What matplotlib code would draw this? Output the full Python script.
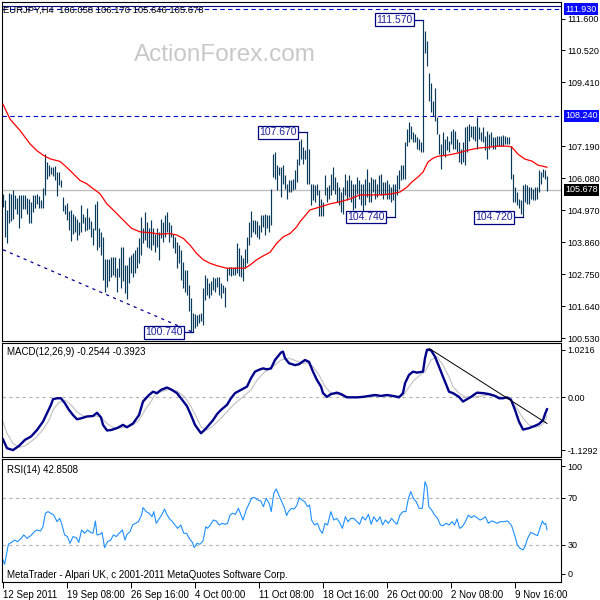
import matplotlib
matplotlib.use("Agg")
import matplotlib.pyplot as plt
import numpy as np

plt.rcParams['font.family'] = ['Liberation Sans', 'DejaVu Sans']

# ---- EURJPY H4 bars (high / low), one per bar from left to right
highs = [
    105.53, 105.31, 104.97, 105.58, 105.54, 105.66, 105.51, 105.39, 105.49, 105.51,
    105.49, 105.51, 105.39, 105.37, 105.26, 105.51, 105.51, 105.54, 105.46, 105.31,
    105.74, 106.90, 106.63, 106.52, 106.46, 106.46, 106.50, 106.29, 106.29, 106.00,
    105.43, 105.14, 105.22, 104.93, 104.97, 104.85, 104.77, 104.66, 104.57, 105.14,
    104.85, 104.74, 105.05, 104.74, 104.59, 104.34, 105.20, 105.28, 104.34, 104.22,
    104.05, 103.28, 103.28, 103.28, 103.36, 103.36, 103.36, 102.98, 103.30, 103.70,
    103.70, 103.07, 103.07, 103.36, 103.42, 103.48,
    103.59, 103.70, 103.99, 104.74, 104.34, 104.91, 104.57, 104.34, 104.62, 104.34,
    104.16, 104.34, 104.22, 104.68, 104.57, 104.82, 104.89, 104.57, 104.45, 104.16,
    104.05, 103.88, 103.76, 103.59, 103.19, 102.90, 102.90, 102.38, 101.92, 101.41,
    101.37, 101.35, 101.37, 101.41, 102.27, 102.73, 102.61, 102.44, 102.50, 102.67,
    102.61, 102.67, 102.64, 102.44, 102.38, 102.32, 102.96, 103.01, 103.01, 102.96,
    103.01, 103.82, 103.67, 103.42, 103.30, 103.62, 104.05, 104.57, 104.93, 104.62,
    104.62, 104.59, 104.45, 104.82, 104.80, 104.85, 104.80, 104.80,
    105.72, 106.92, 106.98, 106.52, 106.46, 106.46, 106.52, 106.18, 105.89, 106.00,
    106.00, 106.06, 106.35, 106.75, 107.38, 107.44, 107.15, 107.04, 107.67, 107.10,
    105.89, 105.89, 105.83, 105.89, 105.66, 105.37, 105.26, 106.18, 105.77, 105.83,
    106.23, 106.46, 106.12, 105.95, 105.77, 105.60, 105.77, 106.23, 106.00, 106.18,
    106.00, 105.89, 105.89, 106.12, 106.00, 105.89, 105.89, 106.06, 106.40, 105.95,
    106.12, 106.06, 106.06, 105.89, 106.18, 106.23, 105.95, 105.95, 106.00, 105.89,
    105.77, 105.89, 105.89, 106.18, 106.35, 106.52, 106.52,
    107.33, 107.78, 108.02, 107.90, 107.67, 107.61, 107.50, 107.44, 107.33, 111.57,
    111.18, 110.83, 109.74, 109.39, 108.76, 109.19, 108.19, 107.61, 107.27, 107.67,
    107.44, 107.55, 107.38, 107.73, 107.78, 107.73, 107.44, 107.33, 107.10, 107.33,
    107.84, 107.90, 107.96, 107.90, 107.90, 107.90, 108.19, 107.84, 107.67, 107.84,
    107.55, 107.73, 107.61, 107.67, 107.50, 107.50, 107.55, 107.55, 107.55, 107.58,
    107.55, 107.50, 107.50, 107.21, 106.23, 105.77, 105.60, 105.37, 105.31, 105.83,
    105.89, 105.83, 105.77, 105.77, 105.72, 105.77, 105.77, 106.35, 106.29, 106.40,
    106.35, 106.17,
]
lows = [
    105.09, 104.04, 103.82, 104.51, 104.61, 104.68, 105.00, 104.85, 104.34, 104.70,
    105.00, 105.00, 104.85, 104.51, 104.51, 104.89, 105.03, 105.20, 105.05, 105.03,
    105.05, 105.51, 106.06, 106.17, 106.23, 106.17, 106.00, 105.46, 105.83, 105.77,
    104.93, 104.85, 104.62, 104.28, 103.90, 104.13, 104.22, 103.93, 104.11, 104.22,
    104.51, 104.24, 104.28, 104.31, 104.05, 103.78, 104.28, 103.59, 103.70, 103.42,
    102.56, 102.15, 102.32, 102.50, 102.67, 102.73, 102.67, 102.15, 102.67, 102.27,
    102.50, 102.10, 101.90, 102.44, 102.78, 102.67,
    102.78, 102.96, 103.13, 103.42, 103.82, 103.93, 103.70, 103.65, 103.59, 103.76,
    103.53, 103.70, 103.24, 103.99, 103.88, 104.05, 104.22, 103.88, 104.05, 103.65,
    103.48, 102.96, 103.13, 102.56, 102.27, 102.15, 102.04, 101.46, 100.78, 100.74,
    100.89, 100.95, 101.06, 101.12, 101.00, 101.87, 102.04, 101.92, 102.04, 102.21,
    102.15, 102.32, 102.04, 101.92, 102.10, 101.63, 102.50, 102.73, 102.70, 102.73,
    102.73, 102.78, 102.70, 102.67, 102.50, 102.96, 103.13, 103.78, 104.05, 104.22,
    104.16, 104.05, 103.97, 104.22, 104.40, 104.11, 104.34, 104.22,
    104.45, 106.12, 106.06, 105.66, 106.18, 105.43, 105.89, 105.72, 105.37, 105.60,
    105.60, 105.66, 105.72, 105.95, 106.52, 106.75, 106.58, 106.75, 105.89, 105.89,
    105.14, 105.31, 105.26, 105.49, 104.78, 104.78, 104.76, 105.49, 105.26, 105.37,
    105.49, 105.66, 105.54, 105.26, 105.14, 104.91, 104.85, 105.49, 105.31, 105.43,
    105.26, 104.97, 105.03, 105.54, 105.37, 105.14, 104.91, 105.14, 105.43, 105.26,
    105.26, 105.60, 105.37, 105.43, 105.54, 105.49, 105.37, 105.49, 105.37, 105.37,
    105.26, 105.31, 104.74, 105.49, 105.72, 106.00, 106.06,
    106.06, 107.21, 107.33, 107.44, 107.33, 107.33, 107.10, 107.04, 106.98, 106.98,
    110.43, 109.97, 108.76, 108.36, 108.24, 108.07, 107.61, 106.92, 106.40, 106.87,
    106.81, 107.04, 106.98, 107.27, 107.10, 107.10, 106.98, 106.64, 106.58, 106.64,
    106.52, 106.98, 107.38, 107.50, 107.44, 107.38, 107.10, 107.44, 107.38, 107.33,
    107.04, 106.75, 107.10, 107.21, 107.10, 107.10, 107.21, 107.21, 107.21, 107.21,
    107.27, 107.27, 107.27, 106.06, 105.26, 105.26, 105.14, 105.03, 104.85, 104.72,
    105.26, 105.20, 105.20, 105.37, 105.31, 105.31, 105.37, 105.60, 105.89, 106.12,
    106.06, 105.646,
]

# red moving average, sampled (bar index, price)
ma_bar = [0, 3.5, 8.5, 13.5, 16.8, 20.2, 23.5, 28.5, 31.8, 35.2,
          38.5, 41.8, 45.2, 48.5, 51.8, 55.2, 58.5, 61.8, 64.3, 68.5,
          73.5, 78.5, 83.5, 86.8, 90.2, 93.5, 96.8, 100.2, 103.5, 106.8,
          111.8, 121, 123.5, 126.8, 130.2, 133.5, 136.8, 140.2, 143.5, 146.8,
          148.5, 153.5, 158.5, 163.5, 168.5, 173.5, 178.5, 183.5, 188.5, 193.5,
          198.5, 202, 204.5, 207.5, 210, 212.5, 215, 217.5, 222.5, 227.5,
          232.5, 237.5, 242.5, 247.5, 252.5, 254.5, 257.5, 261, 264.5, 267.5, 272]
ma_val = [108.64, 108.13, 107.73, 107.27, 107.04, 106.87, 106.75, 106.66, 106.46, 106.23,
          106.00, 105.89, 105.71, 105.54, 105.20, 104.97, 104.74, 104.51, 104.34, 104.22,
          104.19, 104.14, 104.16, 104.11, 103.99, 103.76, 103.47, 103.25, 103.13, 103.05,
          102.96, 102.96, 103.07, 103.25, 103.39, 103.51, 103.82, 104.05, 104.16, 104.39,
          104.57, 104.98, 105.08, 105.19, 105.26, 105.36, 105.50, 105.50, 105.50, 105.53,
          105.60, 105.77, 105.95, 106.12, 106.29, 106.64, 106.77, 106.84, 106.88, 106.95,
          107.05, 107.12, 107.15, 107.19, 107.19, 107.15, 106.91, 106.74, 106.67, 106.53, 106.46]

# price levels
level_lines = [108.24, 111.93]
last_price = 105.678
trend_bar = [0, 95]
trend_price = [103.60, 100.74]

# labelled highs / lows
ann_text = ['111.570', '107.670', '100.740', '104.740', '104.720']
ann_bar = [210, 152, 95, 196, 260]
ann_price = [111.57, 107.67, 100.74, 104.74, 104.72]

price_ticks = [111.6, 110.52, 109.41, 107.19, 106.08, 104.97, 103.86, 102.75, 101.64, 100.53]

# MACD(12,26,9)
macd_bar = [0, 2, 5, 8, 11, 14, 17, 20, 22, 24,
            25, 27, 29, 31, 33, 35, 37, 39, 42, 45,
            47, 49, 50, 52, 54, 57, 60, 62, 65, 68,
            70, 73, 75, 77, 79, 82, 84, 87, 89, 92,
            94, 96, 98, 99, 101, 103, 105, 107, 109, 112,
            114, 116, 119, 122, 124, 126, 128, 130, 132, 134,
            136, 139, 140, 141, 143, 146, 148, 151, 153, 155,
            157, 159, 160, 162, 164, 167, 169, 172, 174, 177,
            180, 183, 186, 189, 192, 195, 198, 200, 201, 203,
            205, 207, 210, 211, 212, 214, 216, 218, 220, 222,
            223, 225, 228, 230, 232, 234, 237, 240, 243, 246,
            248, 250, 252, 254, 256, 258, 260, 263, 266, 268,
            270, 271, 272]
macd_val = [-0.90, -1.09, -1.13, -1.04, -0.91, -0.84, -0.70, -0.52, -0.34, -0.16,
            -0.04, -0.02, -0.02, -0.13, -0.27, -0.38, -0.47, -0.45, -0.41, -0.40,
            -0.33, -0.43, -0.59, -0.71, -0.70, -0.66, -0.59, -0.64, -0.56, -0.38,
            -0.09, 0.05, 0.12, 0.09, 0.16, 0.21, 0.17, 0.09, -0.02, -0.19,
            -0.38, -0.59, -0.71, -0.77, -0.69, -0.59, -0.49, -0.36, -0.27, -0.16,
            -0.02, 0.09, 0.16, 0.23, 0.41, 0.55, 0.59, 0.62, 0.60, 0.62,
            0.80, 0.96, 0.98, 0.84, 0.73, 0.69, 0.71, 0.80, 0.76, 0.55,
            0.37, 0.23, 0.09, 0.01, 0.07, 0.10, 0.07, 0.00, 0.00, 0.00,
            0.01, 0.03, 0.05, 0.03, 0.05, 0.03, 0.00, 0.09, 0.30, 0.48,
            0.55, 0.53, 0.55, 0.84, 1.02, 1.01, 0.87, 0.66, 0.44, 0.23,
            0.12, 0.09, 0.01, -0.09, -0.04, 0.01, 0.10, 0.09, 0.07, 0.03,
            -0.02, -0.02, 0.00, -0.05, -0.27, -0.52, -0.69, -0.66, -0.61, -0.57,
            -0.49, -0.36, -0.2544]
signal_bar = [0, 2, 5, 8, 11, 14, 17, 20, 23, 25,
              28, 31, 34, 37, 40, 43, 47, 49, 52, 55,
              58, 62, 65, 68, 71, 74, 76, 79, 83, 87,
              91, 94, 97, 99, 102, 105, 108, 112, 116, 120,
              124, 127, 131, 135, 139, 143, 146, 150, 152, 155,
              158, 161, 164, 168, 172, 177, 183, 189, 195, 200,
              202, 205, 208, 211, 214, 217, 220, 223, 225, 228,
              231, 235, 239, 243, 247, 250, 254, 257, 260, 263,
              266, 269, 271, 272]
signal_val = [-0.52, -0.77, -0.99, -1.07, -1.04, -0.95, -0.84, -0.69, -0.49, -0.27,
              -0.11, -0.06, -0.16, -0.31, -0.40, -0.41, -0.40, -0.43, -0.56, -0.64,
              -0.66, -0.64, -0.59, -0.49, -0.27, -0.09, 0.05, 0.12, 0.17, 0.14,
              0.00, -0.20, -0.45, -0.63, -0.70, -0.61, -0.49, -0.31, -0.13, 0.01,
              0.16, 0.37, 0.55, 0.66, 0.80, 0.84, 0.79, 0.73, 0.74, 0.66,
              0.48, 0.23, 0.09, 0.05, 0.01, 0.00, 0.01, 0.03, 0.03, 0.03,
              0.16, 0.34, 0.46, 0.55, 0.80, 0.87, 0.69, 0.44, 0.23, 0.09,
              0.01, 0.00, 0.03, 0.05, 0.03, 0.00, -0.06, -0.24, -0.45, -0.59,
              -0.64, -0.61, -0.52, -0.3923]
macd_trend_bar = [213, 272]
macd_trend_val = [1.05, -0.56]

# RSI(14)
rsi_bar = [0.0, 0.8, 2.0, 2.7, 4.3, 5.8, 7.2, 9.1, 10.4, 12.0,
           13.9, 15.4, 16.8, 18.7, 20.0, 21.2, 22.5, 23.9, 25.4, 27.0,
           28.3, 29.3, 30.8, 32.2, 33.5, 35.0, 36.6, 37.9, 39.3, 40.8,
           42.3, 43.7, 45.0, 46.2, 47.0, 48.5, 49.5, 50.8, 52.3, 53.9,
           55.2, 56.6, 58.1, 59.7, 61.0, 62.0, 63.5, 64.8, 66.2, 67.7,
           69.3, 70.0, 71.6, 73.1, 74.5, 75.4, 76.6, 77.7, 79.3, 80.8,
           81.6, 83.1, 84.7, 86.0, 87.3, 88.9, 90.4, 91.8, 93.1, 94.7,
           95.6, 97.0, 98.5, 100.0, 101.4, 102.3, 103.9, 105.2, 106.6, 108.1,
           109.7, 111.0, 112.3, 113.5, 114.8, 116.2, 117.7, 118.7, 120.0, 121.6,
           123.1, 124.5, 125.8, 127.3, 128.9, 130.2, 131.6, 133.1, 134.1, 135.4,
           136.6, 137.9, 139.3, 140.8, 141.8, 142.7, 144.3, 145.6, 147.0, 148.1,
           149.5, 150.8, 152.3, 153.3, 154.3, 155.8, 157.2, 158.5, 159.7, 161.0,
           162.3, 163.9, 165.4, 166.8, 168.1, 169.7, 171.2, 172.5, 173.9, 175.4,
           177.0, 178.3, 179.7, 181.2, 182.7, 184.1, 185.4, 187.0, 188.5, 189.8,
           191.2, 192.7, 194.3, 195.6, 197.0, 198.5, 200.0, 201.4, 202.7, 203.9,
           205.2, 206.6, 208.1, 209.7, 211.0, 212.0, 212.9, 214.3, 215.8, 217.3,
           218.7, 220.0, 221.6, 223.1, 224.5, 225.8, 227.0, 228.3, 229.7, 231.2,
           232.7, 234.1, 235.4, 237.0, 238.5, 239.8, 241.2, 242.7, 244.3, 245.6,
           247.0, 248.5, 250.4, 252.3, 254.3, 255.8, 257.2, 258.5, 260.0, 261.0,
           262.3, 263.9, 265.8, 267.3, 268.7, 269.7, 270.6, 271.3, 272.0]
rsi_val = [17.4, 13.7, 24.4, 30.6, 32.2, 34.2, 32.8, 35.6, 38.5, 35.6,
           37.9, 40.7, 42.7, 41.8, 45.5, 56.8, 58.2, 56.8, 55.3, 49.7,
           52.5, 48.3, 38.5, 37.1, 31.4, 37.1, 36.2, 32.2, 42.7, 39.9,
           42.7, 40.7, 39.9, 50.3, 38.5, 39.0, 40.7, 27.8, 32.8, 34.2,
           38.5, 37.1, 39.9, 42.7, 34.2, 39.0, 41.3, 46.9, 48.3, 49.7,
           55.3, 61.6, 58.2, 56.8, 53.9, 58.2, 48.3, 51.1, 55.3, 60.4,
           56.8, 52.5, 49.7, 46.9, 44.1, 46.9, 39.9, 39.9, 35.6, 32.2,
           27.8, 31.4, 30.6, 33.4, 45.5, 44.1, 47.5, 51.1, 50.3, 46.9,
           48.3, 47.5, 48.3, 55.3, 56.8, 55.9, 61.0, 56.8, 51.1, 59.6,
           65.2, 70.0, 70.0, 68.0, 67.2, 62.4, 69.4, 65.2, 58.2, 73.7,
           77.4, 72.3, 66.6, 61.0, 54.8, 58.2, 61.0, 60.4, 63.8, 70.0,
           68.0, 66.6, 62.4, 63.8, 51.1, 46.9, 48.3, 42.7, 39.9, 48.3,
           46.9, 58.2, 51.1, 52.5, 49.7, 44.1, 53.9, 49.7, 52.5, 52.5,
           49.7, 47.5, 53.9, 51.1, 55.9, 47.5, 53.9, 49.7, 53.9, 46.9,
           51.1, 48.3, 52.5, 49.7, 47.5, 55.3, 58.2, 58.2, 69.4, 75.1,
           69.4, 66.6, 61.0, 61.0, 83.5, 79.3, 62.4, 59.6, 55.3, 52.5,
           46.9, 46.3, 48.3, 46.9, 49.7, 46.9, 52.0, 44.1, 45.5, 49.7,
           55.3, 53.1, 54.8, 53.1, 51.1, 52.0, 53.9, 48.3, 50.3, 49.7,
           48.3, 49.7, 49.7, 50.3, 46.3, 38.5, 30.0, 27.2, 25.8, 28.6,
           35.6, 40.7, 39.0, 37.9, 45.5, 50.3, 47.5, 48.3, 42.85]

time_ticks = [0, 32, 64, 96, 128, 160, 192, 224, 256]
time_labels = ['12 Sep 2011', '19 Sep 08:00', '26 Sep 16:00', '4 Oct 00:00', '11 Oct 08:00',
               '18 Oct 16:00', '26 Oct 00:00', '2 Nov 08:00', '9 Nov 16:00']

BAR = '#0a3a5a'
NAVY = '#000080'
FS = 7
AXFS = 6.5

fig = plt.figure(figsize=(6, 6), dpi=100)
fig.patch.set_facecolor('white')

L, W = 2 / 600, 559 / 600
ax = fig.add_axes([L, 1 - 341 / 600, W, 339 / 600])
ax2 = fig.add_axes([L, 1 - 457 / 600, W, 114 / 600])
ax3 = fig.add_axes([L, 1 - 582 / 600, W, 123 / 600])

for a in (ax, ax2, ax3):
    a.set_xlim(-0.5, 279)
    for s in a.spines.values():
        s.set_color('black')
        s.set_linewidth(0.8)
    a.yaxis.tick_right()
    a.tick_params(axis='y', direction='out', length=3, width=0.7, pad=1.5,
                  labelsize=AXFS, colors='black')
    a.tick_params(axis='x', bottom=False, labelbottom=False)

# ---- main price panel
bars = np.arange(len(highs))
ax.set_ylim(100.437, 112.184)
ax.text(0.398, 0.845, 'ActionForex.com', transform=ax.transAxes, ha='center', va='center',
        fontsize=17.5, color='#c8c8c8', zorder=0)
ax.axhline(last_price, color='#c0c0c0', lw=1.0, zorder=1)
for lv in level_lines:
    ax.axhline(lv, color='#0000c8', lw=0.8, ls=(0, (4, 3)), zorder=1)
ax.axhline(112.05, color=NAVY, lw=0.8, zorder=1)
ax.plot(trend_bar, trend_price, color='#000090', lw=0.9, ls=(0, (2.5, 3.5)), zorder=1)
ax.plot(ma_bar, ma_val, color='#ff0000', lw=0.9, zorder=3)
ax.vlines(bars, lows, highs, color=BAR, lw=0.85, zorder=2)

for t, b, p in zip(ann_text, ann_bar, ann_price):
    ax.plot([b - 5, b], [p, p], color=NAVY, lw=0.9, zorder=4)
    ax.text(b - 5.3, p, t, ha='right', va='center', fontsize=FS + 0.5, color='#22229a', zorder=5,
            bbox=dict(boxstyle='square,pad=0.12', fc='white', ec=NAVY, lw=0.9))

ax.set_yticks(price_ticks)
ax.set_yticklabels([f'{v:.3f}' for v in price_ticks])
ytr = ax.get_yaxis_transform()
for val, bg in [(111.93, '#0a0aff'), (108.24, '#0a0aff'), (last_price, 'black')]:
    ax.text(1.007, val, f'{val:.3f}', transform=ytr, ha='left', va='center', fontsize=AXFS,
            color='white', clip_on=False,
            bbox=dict(boxstyle='square,pad=0.15', fc=bg, ec='none'))
ax.text(0.002, 0.976, 'EURJPY,H4  106.058 106.170 105.646 105.678', transform=ax.transAxes,
        ha='left', va='center', fontsize=6.8, color='black')

# ---- MACD panel
ax2.set_ylim(-1.278, 1.164)
ax2.axhline(0, color='#b4b4b4', lw=0.8, ls=(0, (3, 3)))
ax2.plot(signal_bar, signal_val, color='#c0c0c0', lw=0.8)
ax2.plot(macd_bar, macd_val, color='#00008b', lw=1.7)
ax2.plot(macd_trend_bar, macd_trend_val, color='black', lw=0.7)
ax2.set_yticks([1.0216, 0.0, -1.1292])
ax2.set_yticklabels(['1.0216', '0.00', '-1.1292'])
ax2.text(0.009, 0.92, 'MACD(12,26,9) -0.2544 -0.3923', transform=ax2.transAxes,
         ha='left', va='center', fontsize=FS, color='black')

# ---- RSI panel
ax3.set_ylim(-1.3, 102.7)
for lv in (70, 30):
    ax3.axhline(lv, color='#b4b4b4', lw=0.8, ls=(0, (3, 3)))
ax3.plot(rsi_bar, rsi_val, color='#1e90ff', lw=0.8)
ax3.set_yticks([96.5, 70, 30, 5.5])
ax3.set_yticklabels(['100', '70', '30', '0'])
ax3.text(0.009, 0.91, 'RSI(14) 42.8508', transform=ax3.transAxes,
         ha='left', va='center', fontsize=FS, color='black')
ax3.text(0.009, 0.057, 'MetaTrader - Alpari UK, c 2001-2011 MetaQuotes Software Corp.',
         transform=ax3.transAxes, ha='left', va='center', fontsize=FS, color='black')
ax3.tick_params(axis='x', bottom=True, labelbottom=True, direction='out', length=4,
                width=0.7, pad=2, labelsize=FS)
ax3.set_xticks(time_ticks)
ax3.set_xticklabels(time_labels, ha='left')

fig.savefig('out.png', dpi=100, facecolor='white')
